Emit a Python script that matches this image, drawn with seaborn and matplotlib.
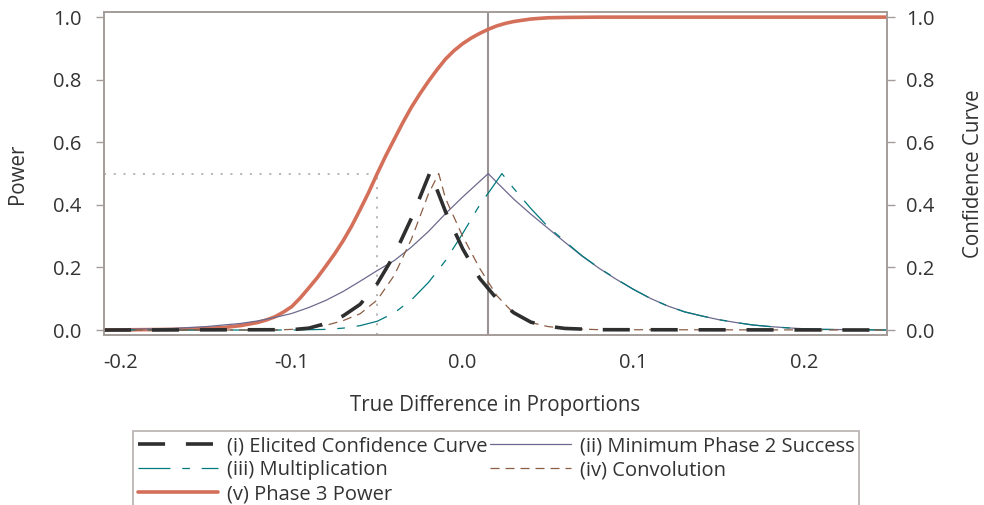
import pandas as pd
import matplotlib
matplotlib.use("Agg")
import matplotlib.pyplot as plt
import seaborn as sns

# ============================================================
# DATA
# ============================================================

# (v) Phase 3 power
POWER_X = [-0.21, -0.19, -0.17, -0.15, -0.14, -0.13, -0.12, -0.115, -0.11, -0.105,
           -0.10, -0.095, -0.09, -0.085, -0.08, -0.075, -0.07, -0.065, -0.06, -0.055,
           -0.05, -0.045, -0.04, -0.035, -0.03, -0.025, -0.02, -0.015, -0.01, -0.005,
           0.0, 0.005, 0.01, 0.015, 0.02, 0.025, 0.03, 0.04, 0.05, 0.06,
           0.08, 0.25]
POWER_Y = [0.000, 0.001, 0.002, 0.005, 0.008, 0.014, 0.024, 0.032, 0.042, 0.057,
           0.075, 0.103, 0.135, 0.168, 0.205, 0.243, 0.285, 0.332, 0.385, 0.440,
           0.500, 0.557, 0.610, 0.663, 0.712, 0.755, 0.795, 0.832, 0.866, 0.893,
           0.915, 0.933, 0.948, 0.961, 0.972, 0.980, 0.986, 0.994, 0.998, 0.999,
           1.000, 1.000]

# (ii) minimum phase 2 success
MIN_X = [-0.21, -0.19, -0.17, -0.15, -0.13, -0.12, -0.11, -0.10, -0.09, -0.08,
         -0.07, -0.06, -0.05, -0.04, -0.03, -0.02, -0.01, 0.0, 0.015, 0.02,
         0.03, 0.04, 0.05, 0.06, 0.07, 0.08, 0.09, 0.10, 0.11, 0.12,
         0.13, 0.14, 0.15, 0.16, 0.17, 0.18, 0.19, 0.20, 0.21, 0.23, 0.25]
MIN_Y = [0.001, 0.003, 0.005, 0.011, 0.021, 0.029, 0.040, 0.053, 0.072, 0.095,
         0.123, 0.156, 0.190, 0.222, 0.265, 0.315, 0.372, 0.425, 0.500, 0.472,
         0.418, 0.370, 0.325, 0.280, 0.236, 0.197, 0.162, 0.130, 0.101, 0.077,
         0.058, 0.045, 0.033, 0.024, 0.016, 0.011, 0.007, 0.004, 0.002, 0.001, 0.000]

# (iii) multiplication
MULT_X = [-0.21, -0.10, -0.09, -0.08, -0.07, -0.06, -0.05, -0.04, -0.03, -0.02,
          -0.01, 0.0, 0.01, 0.016, 0.023, 0.03, 0.04, 0.05, 0.06, 0.07,
          0.08, 0.09, 0.10, 0.11, 0.12, 0.13, 0.14, 0.15, 0.16, 0.17,
          0.18, 0.19, 0.20, 0.21, 0.23, 0.25]
MULT_Y = [0.000, 0.000, 0.001, 0.002, 0.006, 0.014, 0.028, 0.055, 0.096, 0.152,
          0.222, 0.308, 0.400, 0.445, 0.500, 0.452, 0.388, 0.330, 0.283, 0.237,
          0.198, 0.163, 0.130, 0.101, 0.077, 0.058, 0.045, 0.033, 0.024, 0.016,
          0.011, 0.007, 0.004, 0.002, 0.001, 0.000]

# (iv) convolution
CONV_X = [-0.21, -0.11, -0.10, -0.09, -0.08, -0.07, -0.06, -0.05, -0.04, -0.03,
          -0.02, -0.014, -0.01, -0.005, 0.0, 0.01, 0.02, 0.03, 0.04, 0.05,
          0.06, 0.08, 0.25]
CONV_Y = [0.000, 0.000, 0.002, 0.007, 0.015, 0.030, 0.052, 0.096, 0.175, 0.290,
          0.435, 0.500, 0.420, 0.360, 0.300, 0.197, 0.110, 0.053, 0.024, 0.011,
          0.005, 0.001, 0.000]

# (i) elicited confidence curve
ELIC_X = [-0.21, -0.10, -0.09, -0.08, -0.07, -0.06, -0.05, -0.04, -0.03, -0.019,
          -0.01, 0.0, 0.01, 0.02, 0.03, 0.04, 0.05, 0.06, 0.08, 0.25]
ELIC_Y = [0.000, 0.001, 0.006, 0.021, 0.045, 0.082, 0.148, 0.240, 0.357, 0.505,
          0.378, 0.260, 0.165, 0.100, 0.055, 0.025, 0.012, 0.005, 0.001, 0.000]

DECISION_X = 0.015          # vertical reference line
POWER50_X, POWER50_Y = -0.05, 0.5

X_TICKS = [-0.2, -0.1, 0.0, 0.1, 0.2]
Y_TICKS = [0.0, 0.2, 0.4, 0.6, 0.8, 1.0]

LABELS = {
    "elic": "(i) Elicited Confidence Curve",
    "min": "(ii) Minimum Phase 2 Success",
    "mult": "(iii) Multiplication",
    "conv": "(iv) Convolution",
    "power": "(v) Phase 3 Power",
}

# ============================================================
# STYLE
# ============================================================

FRAME = "#a49c99"
TEXT = "#333333"
sns.set_style("white")
plt.rcParams["font.family"] = ["Open Sans", "DejaVu Sans"]
plt.rcParams["lines.scale_dashes"] = False
plt.rcParams["axes.edgecolor"] = FRAME
plt.rcParams["xtick.color"] = FRAME
plt.rcParams["ytick.color"] = FRAME
plt.rcParams["xtick.labelcolor"] = TEXT
plt.rcParams["ytick.labelcolor"] = TEXT

fig = plt.figure(figsize=(9.84, 5.05), dpi=100)
ax = fig.add_axes([0.1057, 0.3366, 0.7957, 0.6394])

def df_of(x, y):
    return pd.DataFrame({"x": x, "y": y})

# reference lines
ax.axvline(DECISION_X, color="#9b9393", lw=1.5, zorder=1)
ax.plot([-0.21, POWER50_X], [POWER50_Y, POWER50_Y], color="#a8a0a0", lw=1.1,
        linestyle=(0, (1.5, 5.5)), zorder=1)
ax.plot([POWER50_X, POWER50_X], [-0.016, POWER50_Y], color="#a8a0a0", lw=1.1,
        linestyle=(0, (1.5, 5.5)), zorder=1)

sns.lineplot(data=df_of(POWER_X, POWER_Y), x="x", y="y", ax=ax, color="#d4705a",
             lw=2.6, label=LABELS["power"], sort=False, zorder=2)
sns.lineplot(data=df_of(MIN_X, MIN_Y), x="x", y="y", ax=ax, color="#6c6a8e",
             lw=0.9, label=LABELS["min"], sort=False, zorder=3)
sns.lineplot(data=df_of(MULT_X, MULT_Y), x="x", y="y", ax=ax, color="#00797c",
             lw=0.9, linestyle=(0, (23, 8.5, 5.5, 8.5)), label=LABELS["mult"],
             sort=False, zorder=3)
sns.lineplot(data=df_of(CONV_X, CONV_Y), x="x", y="y", ax=ax, color="#8b5e45",
             lw=0.9, linestyle=(0, (6.5, 4.3)), label=LABELS["conv"],
             sort=False, zorder=4)
sns.lineplot(data=df_of(ELIC_X, ELIC_Y), x="x", y="y", ax=ax, color="#2f2f2f",
             lw=2.6, linestyle=(0, (19.5, 15)), label=LABELS["elic"],
             sort=False, zorder=5)

ax.set_xlim(-0.21, 0.2485)
ax.set_ylim(-0.016, 1.016)
ax.set_xticks(X_TICKS)
ax.set_xticklabels([f"{v:.1f}" for v in X_TICKS])
ax.set_yticks(Y_TICKS)
ax.set_yticklabels([f"{v:.1f}" for v in Y_TICKS])
ax.tick_params(axis="both", direction="out", length=6, width=1, labelsize=14.5)
ax.tick_params(axis="y", pad=10)
ax.tick_params(axis="x", pad=7)
ax.set_xlabel("True Difference in Proportions", fontsize=14.8, color=TEXT, labelpad=16)
ax.set_ylabel("Power", fontsize=14.8, color=TEXT, labelpad=18)
for s in ax.spines.values():
    s.set_color(FRAME)
    s.set_linewidth(1.2)

ax2 = ax.twinx()
ax2.set_ylim(ax.get_ylim())
ax2.set_yticks(Y_TICKS)
ax2.set_yticklabels([f"{v:.1f}" for v in Y_TICKS])
ax2.tick_params(axis="y", direction="out", length=6, width=1, labelsize=14.5, pad=8)
ax2.set_ylabel("Confidence Curve", fontsize=14.8, color=TEXT, labelpad=20)
for s in ax2.spines.values():
    s.set_color(FRAME)
    s.set_linewidth(1.2)

# legend, row-major order in two columns
handles, labels = ax.get_legend_handles_labels()
lookup = dict(zip(labels, handles))
order = ["elic", "mult", "power", "min", "conv"]
ax.get_legend().remove()
leg = fig.legend([lookup[LABELS[k]] for k in order], [LABELS[k] for k in order],
                 ncol=2, loc="upper left", bbox_to_anchor=(0.135, 0.1465),
                 frameon=True, fancybox=False, fontsize=14.5, handlelength=4.0,
                 handletextpad=0.45, columnspacing=0.1, borderpad=0.25,
                 labelspacing=0.2, borderaxespad=0)
leg.get_frame().set_edgecolor(FRAME)
leg.get_frame().set_linewidth(1.2)
for t in leg.get_texts():
    t.set_color(TEXT)

fig.savefig("out.png", dpi=100)
